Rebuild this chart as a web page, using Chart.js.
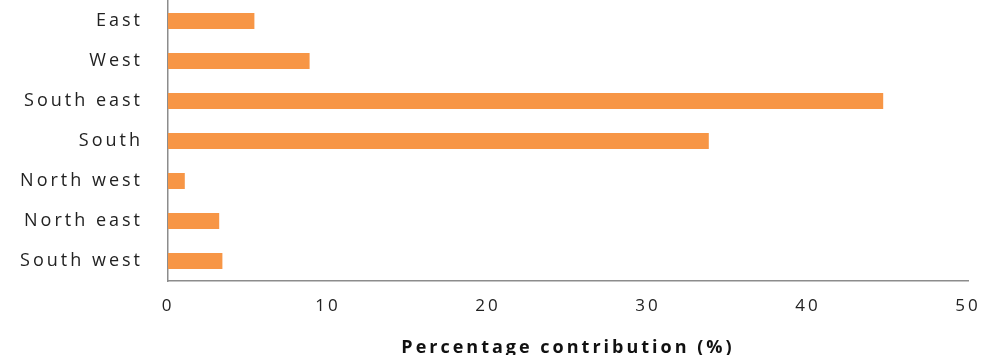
<!DOCTYPE html>
<html>
<head>
<meta charset="utf-8">
<script src="https://cdn.jsdelivr.net/npm/chart.js@4/dist/chart.umd.min.js"></script>
<style>
  html, body { margin: 0; padding: 0; background: #fff; }
  #wrap { width: 987px; height: 355px; }
</style>
</head>
<body>
<div id="wrap"><canvas id="regionChart"></canvas></div>
<script>
const regions = ['East', 'West', 'South east', 'South', 'North west', 'North east', 'South west'];
const contribution = [5.4, 8.85, 44.7, 33.8, 1.05, 3.2, 3.4];
const xTicks = [0, 10, 20, 30, 40, 50];

// the original text is drawn wide, so space the letters out a bit
const spacing = {
    id: 'spacing',
    beforeDraw(chart) {
        chart.ctx.letterSpacing = '3px';
    }
};

const ctx = document.getElementById('regionChart').getContext('2d');

new Chart(ctx, {
    type: 'bar',
    data: {
        labels: regions,
        datasets: [{
            label: 'Percentage contribution (%)',
            data: contribution,
            backgroundColor: '#F79646',
            borderWidth: 0,
            barPercentage: 0.4,
            categoryPercentage: 1
        }]
    },
    plugins: [spacing],
    options: {
        indexAxis: 'y',
        responsive: true,
        maintainAspectRatio: false,
        animation: false,
        layout: {
            padding: { top: 1, right: 19, left: 0, bottom: 0 }
        },
        plugins: {
            legend: { display: false },
            tooltip: { enabled: false }
        },
        scales: {
            x: {
                min: 0,
                max: 50,
                afterFit: scale => {
                    scale.height = 74;
                    scale.paddingLeft = 0;
                    scale.paddingRight = 0;
                },
                afterBuildTicks: scale => {
                    scale.ticks = xTicks.map(v => ({ value: v }));
                },
                grid: { display: false, drawTicks: false },
                border: { display: true, color: '#8c8c8c', width: 1.5 },
                ticks: {
                    padding: 15,
                    color: '#222',
                    font: { family: 'Open Sans', size: 17 }
                },
                title: {
                    display: true,
                    text: 'Percentage contribution (%)',
                    color: '#111',
                    padding: { top: 0, bottom: -4 },
                    font: { family: 'Open Sans', size: 18, weight: 'bold' }
                }
            },
            y: {
                afterFit: scale => {
                    scale.width = 168;
                    scale.paddingTop = 0;
                    scale.paddingBottom = 0;
                },
                grid: { display: false, drawTicks: false },
                border: { display: true, color: '#8c8c8c', width: 1.5 },
                ticks: {
                    padding: 25,
                    color: '#222',
                    font: { family: 'Open Sans', size: 18 }
                }
            }
        }
    }
});
</script>
</body>
</html>
